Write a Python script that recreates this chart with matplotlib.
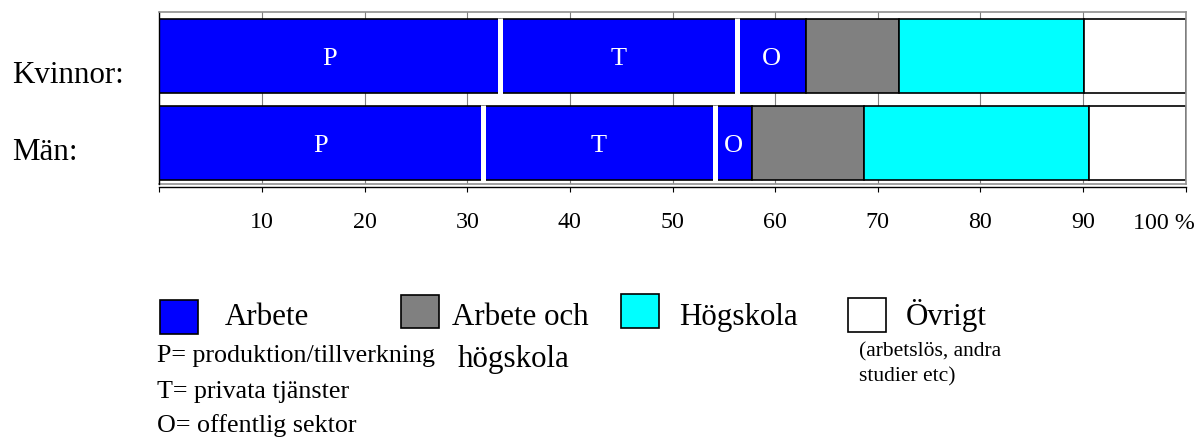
import matplotlib.pyplot as plt
from matplotlib.patches import Rectangle

plt.rcParams['font.family'] = ['Liberation Serif', 'DejaVu Serif']

# data (percent of each group)
groups = ["Män:", "Kvinnor:"]
arbete_p = [31.5, 33.2]
arbete_t = [22.6, 23.1]
arbete_o = [3.6, 6.7]
arbete_hogskola = [11.0, 9.1]
hogskola = [21.9, 18.0]
ovrigt = [9.4, 9.9]
arbete_letters = ["P", "T", "O"]
tick_values = [0, 10, 20, 30, 40, 50, 60, 70, 80, 90, 100]
tick_labels = ["", "10", "20", "30", "40", "50", "60", "70", "80", "90", ""]
last_label = "100 %"

W, H = 1202, 437
fig = plt.figure(figsize=(W / 100, H / 100), dpi=100)
ax = fig.add_axes([159.3 / W, 1 - 184 / H, (1185.7 - 159.3) / W, 172 / H])

# frame first (set_position resets the ticks)
for side in ["top", "right"]:
    ax.spines[side].set_color("#909090")
    ax.spines[side].set_linewidth(1.2)
ax.spines["left"].set_color("black")
ax.spines["left"].set_linewidth(1.0)
ax.spines["bottom"].set_position(("outward", 2.2))
ax.spines["bottom"].set_color("black")
ax.spines["bottom"].set_linewidth(1.0)
ax.plot([0, 1], [0, 0], transform=ax.transAxes, color="#909090",
        linewidth=1.2, clip_on=False, zorder=1)

y = [0, 1]
bar_h = 0.84
segments = [
    (arbete_p, "#0000ff"),
    (arbete_t, "#0000ff"),
    (arbete_o, "#0000ff"),
    (arbete_hogskola, "#808080"),
    (hogskola, "#00ffff"),
    (ovrigt, "#ffffff"),
]
left = [0.0, 0.0]
starts = []
for values, color in segments:
    ax.barh(y, values, left=left, height=bar_h, color=color,
            edgecolor="black", linewidth=1.2, zorder=2)
    starts.append(list(left))
    left = [l + v for l, v in zip(left, values)]

# white dividers inside the Arbete part + letters
for i in range(2):
    for k in range(3):
        vals = segments[k][0]
        x0 = starts[k][i]
        ax.text(x0 + vals[i] / 2, y[i], arbete_letters[k], color="white",
                fontsize=19, ha="center", va="center_baseline", zorder=4)
        if k > 0:
            ax.plot([x0, x0], [y[i] - bar_h / 2 - 0.02, y[i] + bar_h / 2 + 0.02],
                    color="white", linewidth=3.6, zorder=3, solid_capstyle="butt")

ax.set_xlim(0, 100)
ax.set_ylim(-0.471, 1.506)
ax.set_yticks([])
ax.set_xticks(tick_values)
ax.set_xticklabels(tick_labels)
ax.tick_params(axis="x", direction="out", length=3.6, width=0.8, pad=14,
               colors="black", labelsize=17.3)
ax.grid(axis="x", color="#808080", linewidth=0.8, zorder=0)
ax.set_axisbelow(True)

# overlay in pixel coordinates for labels and legend
lax = fig.add_axes([0, 0, 1, 1])
lax.set_xlim(0, W)
lax.set_ylim(H, 0)
lax.axis("off")

# last tick label sits a bit to the left so it fits
lax.text(1164, 229, last_label, fontsize=17.3, va="baseline", ha="center")

lax.text(12, 83.3, groups[1], fontsize=22.3, va="baseline", ha="left")
lax.text(12, 160, groups[0], fontsize=22.3, va="baseline", ha="left")

boxes = [
    (160, 300, "#0000ff"),
    (401, 294.5, "#808080"),
    (621, 294, "#00ffff"),
    (848.3, 298, "#ffffff"),
]
for bx, by, c in boxes:
    lax.add_patch(Rectangle((bx, by), 37.5, 33.5, facecolor=c,
                            edgecolor="black", linewidth=1.2))

lax.text(225, 325, "Arbete", fontsize=22.3, va="baseline")
lax.text(451.7, 325, "Arbete och", fontsize=22.3, va="baseline")
lax.text(458, 366.7, "högskola", fontsize=22.3, va="baseline")
lax.text(679.3, 325, "Högskola", fontsize=22.3, va="baseline")
lax.text(905.7, 325, "Övrigt", fontsize=22.3, va="baseline")
lax.text(859, 356, "(arbetslös, andra", fontsize=15.5, va="baseline")
lax.text(859, 381, "studier etc)", fontsize=15.5, va="baseline")
lax.text(157, 361.7, "P= produktion/tillverkning", fontsize=18.7, va="baseline")
lax.text(157, 398.3, "T= privata tjänster", fontsize=18.7, va="baseline")
lax.text(157, 431.7, "O= offentlig sektor", fontsize=18.7, va="baseline")

fig.savefig("out.png", dpi=100)
